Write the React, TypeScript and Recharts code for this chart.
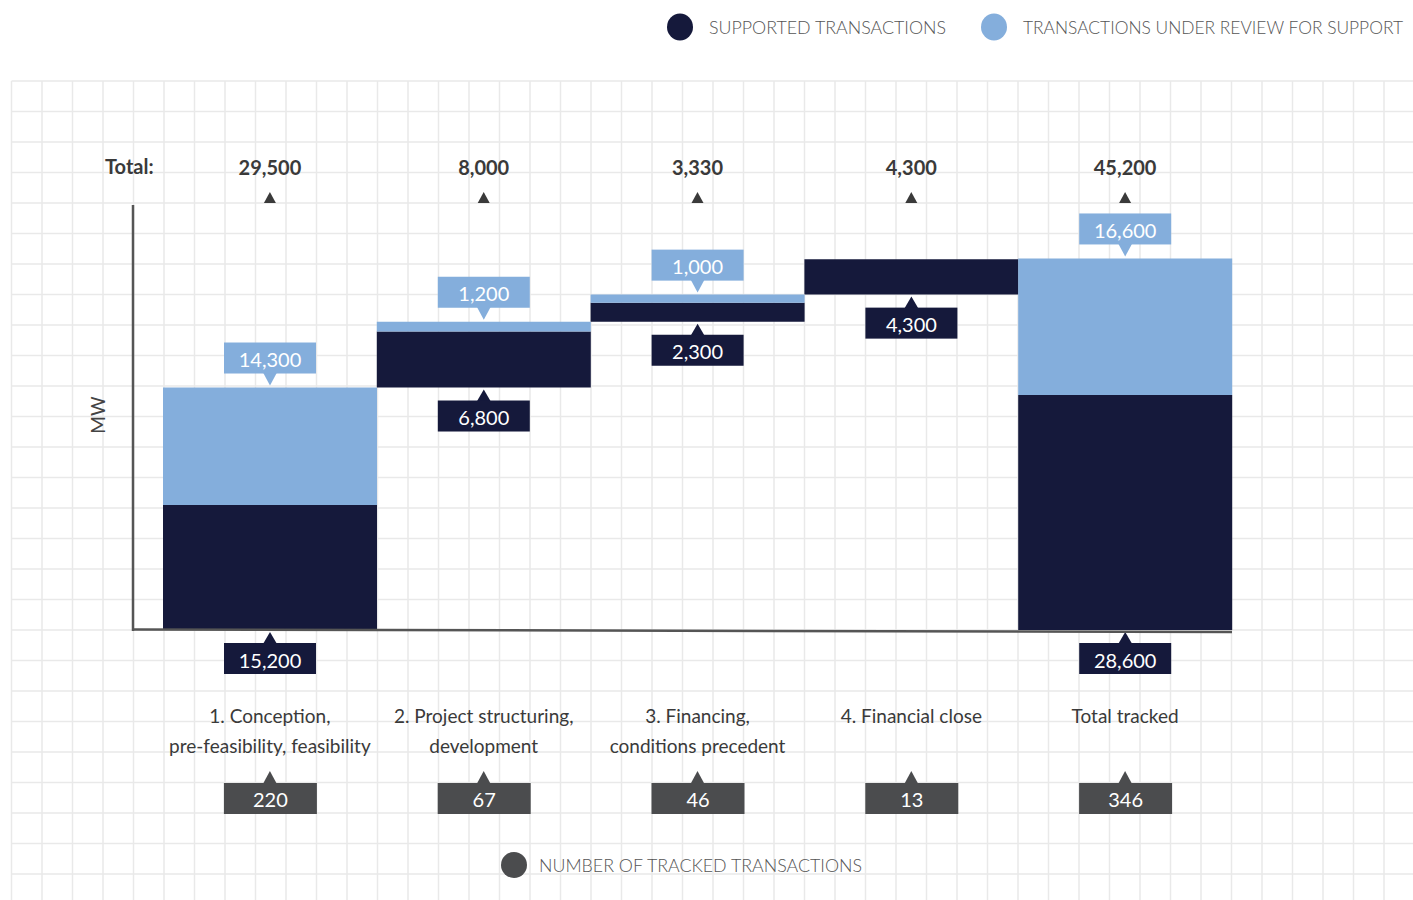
import React from 'react';
import { ComposedChart, Bar, XAxis, YAxis, LabelList } from 'recharts';

const categories = ['1. Conception,|pre-feasibility, feasibility', '2. Project structuring,|development', '3. Financing,|conditions precedent', '4. Financial close', 'Total tracked'];
const baseValues = [0, 29500, 37500, 40800, 0];
const supported = [15200, 6800, 2300, 4300, 28600];
const underReview: (number | null)[] = [14300, 1200, 1000, null, 16600];
const totals = [29500, 8000, 3330, 4300, 45200];
const counts = [220, 67, 46, 13, 346];

const DARK = '#15193b';
const LIGHT = '#84aedc';
const GREY_BOX = '#4b4c4e';
const TEXT = '#3a3a3a';
const FONT = 'Lato, "Open Sans", sans-serif';

const data = categories.map((name, i) => ({
  name,
  base: baseValues[i],
  supported: supported[i],
  review: underReview[i],
}));

const fmt = (v: number) => v.toLocaleString('en-US');

const BOX_W = 92;
const BOX_H = 31;

const DarkLabel = (props: any) => {
  const { x, y, width, height, value } = props;
  if (value == null) return null;
  const cx = Number(x) + Number(width) / 2;
  const bottom = Number(y) + Number(height);
  const top = bottom + 13;
  return (
    <g>
      <polygon points={`${cx - 7},${top + 1} ${cx + 7},${top + 1} ${cx},${bottom + 2}`} fill={DARK} />
      <rect x={cx - BOX_W / 2} y={top} width={BOX_W} height={BOX_H} fill={DARK} />
      <text x={cx} y={top + BOX_H / 2 + 1} fill="#fff" fontSize={20} fontFamily={FONT} textAnchor="middle" dominantBaseline="central">{fmt(value)}</text>
    </g>
  );
};

const LightLabel = (props: any) => {
  const { x, y, width, value } = props;
  if (value == null) return null;
  const cx = Number(x) + Number(width) / 2;
  const barTop = Number(y);
  const bottom = barTop - 14;
  const top = bottom - BOX_H;
  return (
    <g>
      <polygon points={`${cx - 7},${bottom - 1} ${cx + 7},${bottom - 1} ${cx},${barTop - 2}`} fill={LIGHT} />
      <rect x={cx - BOX_W / 2} y={top} width={BOX_W} height={BOX_H} fill={LIGHT} />
      <text x={cx} y={top + BOX_H / 2 + 1} fill="#fff" fontSize={20} fontFamily={FONT} textAnchor="middle" dominantBaseline="central">{fmt(value)}</text>
    </g>
  );
};

const CategoryTick = (props: any) => {
  const { x, payload } = props;
  const i = payload.index ?? categories.indexOf(payload.value);
  const lines = String(categories[i]).split('|');
  const cx = Number(x);
  return (
    <g>
      {/* total on top */}
      <text x={cx} y={167} fill={TEXT} fontSize={20} fontWeight={700} fontFamily={FONT} textAnchor="middle" dominantBaseline="central">{fmt(totals[i])}</text>
      <polygon points={`${cx - 6},${203} ${cx + 6},${203} ${cx},${192}`} fill={TEXT} />
      {/* category labels */}
      {lines.map((l, k) => (
        <text key={k} x={cx} y={715 + k * 30} fill={TEXT} fontSize={19} fontFamily={FONT} textAnchor="middle" dominantBaseline="central">{l}</text>
      ))}
      {/* counts */}
      <polygon points={`${cx - 7},${784} ${cx + 7},${784} ${cx},${771}`} fill={GREY_BOX} />
      <rect x={cx - BOX_W / 2} y={783} width={BOX_W + 1} height={BOX_H} fill={GREY_BOX} />
      <text x={cx + 0.5} y={799} fill="#fff" fontSize={20} fontFamily={FONT} textAnchor="middle" dominantBaseline="central">{counts[i]}</text>
    </g>
  );
};

const GridBackground = () => {
  const v: number[] = [];
  for (let x = 11.5; x <= 1413; x += 30.5) v.push(x);
  const h: number[] = [];
  for (let y = 81; y <= 900; y += 30.5) h.push(y);
  return (
    <svg width={1413} height={900} style={{ position: 'absolute', left: 0, top: 0 }}>
      {v.map((x) => <line key={'v' + x} x1={x} x2={x} y1={81} y2={900} stroke="#e9e9e9" strokeWidth={1.5} />)}
      {h.map((y) => <line key={'h' + y} x1={11.5} x2={1413} y1={y} y2={y} stroke="#e9e9e9" strokeWidth={1.5} />)}
    </svg>
  );
};

const Overlay = () => (
  <svg width={1413} height={900} style={{ position: 'absolute', left: 0, top: 0, pointerEvents: 'none' }}>
    {/* legend top */}
    <ellipse cx={680} cy={27} rx={13} ry={13.5} fill={DARK} />
    <text x={709} y={27} fontSize={17} fontWeight={300} fill="#555" fontFamily={FONT} dominantBaseline="central" textLength={237} lengthAdjust="spacingAndGlyphs">SUPPORTED TRANSACTIONS</text>
    <ellipse cx={994} cy={27} rx={13} ry={13.5} fill={LIGHT} />
    <text x={1023} y={27} fontSize={17} fontWeight={300} fill="#555" fontFamily={FONT} dominantBaseline="central" textLength={380} lengthAdjust="spacingAndGlyphs">TRANSACTIONS UNDER REVIEW FOR SUPPORT</text>
    {/* legend bottom */}
    <circle cx={514} cy={865} r={13} fill={GREY_BOX} />
    <text x={539} y={865} fontSize={17} fontWeight={300} fill="#555" fontFamily={FONT} dominantBaseline="central" textLength={323} lengthAdjust="spacingAndGlyphs">NUMBER OF TRACKED  TRANSACTIONS</text>
    {/* Total: */}
    <text x={105} y={166} fontSize={20} fontWeight={700} fill={TEXT} fontFamily={FONT} dominantBaseline="central">Total:</text>
    {/* MW */}
    <text x={97} y={415} fontSize={19} fill="#444" fontFamily={FONT} textAnchor="middle" dominantBaseline="central" transform="rotate(-90 97 415)">MW</text>
    {/* axis lines */}
    <line x1={133} x2={133} y1={205} y2={631} stroke="#555" strokeWidth={2.5} />
    <line x1={133} x2={1232} y1={629.5} y2={632} stroke="#555" strokeWidth={2.5} />
  </svg>
);

export default function App() {
  return (
    <div style={{ position: 'absolute', left: 0, top: 0, width: 1413, height: 900, background: '#fff', overflow: 'hidden' }}>
      <GridBackground />
      <div style={{ position: 'absolute', left: 0, top: 0 }}>
        <ComposedChart width={1413} height={900} data={data} margin={{ top: 219, right: 181, left: 163, bottom: 240 }} barCategoryGap={0} barGap={0}>
          <XAxis dataKey="name" height={30} axisLine={false} tickLine={false} interval={0} tick={<CategoryTick />} />
          <YAxis hide type="number" domain={[0, 50000]} />
          <Bar dataKey="base" stackId="a" fill="transparent" isAnimationActive={false} />
          <Bar dataKey="supported" stackId="a" fill={DARK} isAnimationActive={false}>
            <LabelList dataKey="supported" content={<DarkLabel />} />
          </Bar>
          <Bar dataKey="review" stackId="a" fill={LIGHT} isAnimationActive={false}>
            <LabelList dataKey="review" content={<LightLabel />} />
          </Bar>
        </ComposedChart>
      </div>
      <Overlay />
    </div>
  );
}
